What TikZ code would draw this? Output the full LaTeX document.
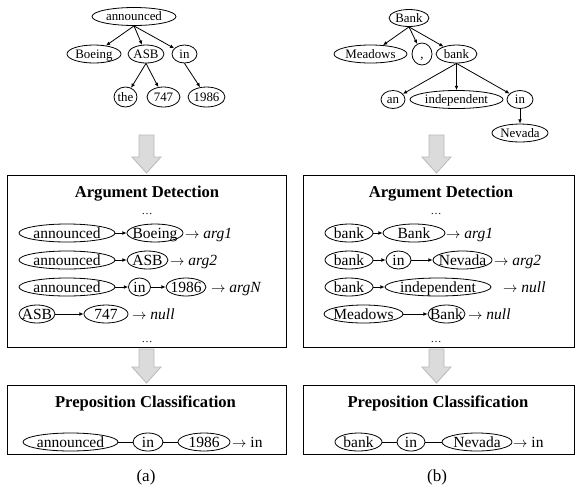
\documentclass[tikz,border=0pt]{standalone}
\usepackage{fontspec}
\setmainfont{Liberation Serif}
\usetikzlibrary{shapes.geometric,arrows.meta}
\begin{document}
\begin{tikzpicture}[x=1pt,y=-1pt,
  el/.style={draw, ellipse, line width=0.8pt, inner xsep=-8pt, inner ysep=-5pt,
             minimum height=18pt},
  tr/.style={el, text height=9.5pt, text depth=1.1pt, font=\fontsize{12.9}{14}\selectfont},
  bx/.style={el, text height=11.5pt, text depth=1pt, font=\fontsize{15.5}{17}\selectfont},
  edge/.style={line width=0.8pt, -{Latex[length=4.2pt,width=3.8pt]}},
  link/.style={line width=0.8pt},
  lab/.style={anchor=west, inner sep=0pt, text height=11.5pt, text depth=1pt,
              font=\fontsize{15.5}{17}\selectfont},
  ttl/.style={anchor=base, inner sep=0pt, font=\fontsize{16.6}{19}\selectfont\bfseries},
  dts/.style={anchor=base, inner sep=0pt, font=\fontsize{11}{12}\selectfont},
  panel/.style={draw, line width=1pt, inner sep=0pt},
  bigarrow/.style={fill=black!14, draw=black!28, line width=0.8pt},
  captxt/.style={inner sep=0pt, font=\fontsize{17}{19}\selectfont}
]
\useasboundingbox (0,0) rectangle (576,499);

% ---------------- top trees ----------------
\node[tr, minimum width=84pt] (a0) at (134,16.5) {announced};
\node[tr, minimum width=54pt] (a1) at (94,54) {Boeing};
\node[tr, minimum width=36pt] (a2) at (146,54) {ASB};
\node[tr, minimum width=25pt] (a3) at (184.5,54) {in};
\node[tr, minimum width=23pt, minimum height=20pt] (a4) at (125.5,97) {the};
\node[tr, minimum width=33pt, minimum height=20pt] (a5) at (163.5,97) {747};
\node[tr, minimum width=37pt, minimum height=20pt] (a6) at (206.5,97) {1986};
\draw[edge] (a0.south) -- (a1);
\draw[edge] (a0.south) -- (a2);
\draw[edge] (a0.south) -- (a3);
\draw[edge] (a2.south) -- (a4);
\draw[edge] (a2.south) -- (a5);
\draw[edge] (a3.south) -- (a6);

\node[tr, minimum width=40pt, minimum height=17pt] (b0) at (409,18) {Bank};
\node[tr, minimum width=73pt] (b1) at (370.5,54) {Meadows};
\node[tr, minimum width=20pt, minimum height=22pt] (b2) at (422,54) {,};
\node[tr, minimum width=41pt] (b3) at (456.5,54) {bank};
\node[tr, minimum width=24pt] (b4) at (393,99.5) {an};
\node[tr, minimum width=93pt] (b5) at (456.5,99.5) {independent};
\node[tr, minimum width=26pt] (b6) at (520,99.5) {in};
\node[tr, minimum width=56pt] (b7) at (520,133) {Nevada};
\draw[edge] (b0.south) -- (b1);
\draw[edge] (b0.south) -- (b2);
\draw[edge] (b0.south) -- (b3);
\draw[edge] (b3.south) -- (b4);
\draw[edge] (b3.south) -- (b5);
\draw[edge] (b3.south) -- (b6);
\draw[edge] (b6) -- (b7);

% ---------------- gray arrows ----------------
\foreach \cx/\ya/\yb/\yc in {146.5/135/157/173, 436.5/135/157/173, 146.5/349/367/383, 436.5/349/367/383}{
  \draw[bigarrow] (\cx-7.5,\ya) -- (\cx+7.5,\ya) -- (\cx+7.5,\yb) -- (\cx+14.5,\yb)
     -- (\cx,\yc) -- (\cx-14.5,\yb) -- (\cx-7.5,\yb) -- cycle;
}

% ---------------- panels ----------------
\node[panel, minimum width=279pt, minimum height=172pt] (pl1) at (146.5,261) {};
\node[panel, minimum width=271pt, minimum height=172pt] (pr1) at (439,261) {};
\node[panel, minimum width=279pt, minimum height=69pt] (pl2) at (146.5,419.5) {};
\node[panel, minimum width=271pt, minimum height=69pt] (pr2) at (439,419.5) {};

\node[ttl] (tl1) at (147,197) {Argument Detection};
\node[ttl] (tr1) at (441,197) {Argument Detection};
\node[ttl] (tl2) at (145.5,407) {Preposition Classification};
\node[ttl] (tr2) at (438,407) {Preposition Classification};

\node[dts] (dl1) at (147,214) {\dots};
\node[dts] (dr1) at (436,214) {\dots};
\node[dts] (dl2) at (147,342) {\dots};
\node[dts] (dr2) at (436,342) {\dots};

% ---------------- left argument rows ----------------
\node[bx, minimum width=96pt] (l11) at (67,233) {announced};
\node[bx, minimum width=56pt] (l12) at (155,233) {Boeing};
\node[lab] (l1l) at (185,233) {$\rightarrow$ \textit{arg1}};
\draw[edge] (l11) -- (l12);

\node[bx, minimum width=96pt] (l21) at (67,260) {announced};
\node[bx, minimum width=41pt] (l22) at (147.5,260) {ASB};
\node[lab] (l2l) at (170,260) {$\rightarrow$ \textit{arg2}};
\draw[edge] (l21) -- (l22);

\node[bx, minimum width=96pt] (l31) at (67,287) {announced};
\node[bx, minimum width=22pt] (l32) at (139.5,287) {in};
\node[bx, minimum width=40pt] (l33) at (186,287) {1986};
\node[lab] (l3l) at (211,287) {$\rightarrow$ \textit{argN}};
\draw[edge] (l31) -- (l32);
\draw[edge] (l32) -- (l33);

\node[bx, minimum width=36pt] (l41) at (37,314) {ASB};
\node[bx, minimum width=44pt] (l42) at (106,314) {747};
\node[lab] (l4l) at (132,314) {$\rightarrow$ \textit{null}};
\draw[edge] (l41) -- (l42);

% ---------------- right argument rows ----------------
\node[bx, minimum width=48pt] (r11) at (349,233) {bank};
\node[bx, minimum width=62pt] (r12) at (414,233) {Bank};
\node[lab] (r1l) at (446,233) {$\rightarrow$ \textit{arg1}};
\draw[edge] (r11) -- (r12);

\node[bx, minimum width=48pt] (r21) at (349,260) {bank};
\node[bx, minimum width=25pt] (r22) at (398.5,260) {in};
\node[bx, minimum width=59pt] (r23) at (462.5,260) {Nevada};
\node[lab] (r2l) at (494,260) {$\rightarrow$ \textit{arg2}};
\draw[edge] (r21) -- (r22);
\draw[edge] (r22) -- (r23);

\node[bx, minimum width=48pt] (r31) at (349,287) {bank};
\node[bx, minimum width=106pt] (r32) at (438,287) {independent};
\node[lab] (r3l) at (503,287) {$\rightarrow$ \textit{null}};
\draw[edge] (r31) -- (r32);

\node[bx, minimum width=79pt] (r41) at (363.5,314) {Meadows};
\node[bx, minimum width=37pt] (r42) at (446.5,314) {Bank};
\node[lab] (r4l) at (468,314) {$\rightarrow$ \textit{null}};
\draw[edge] (r41) -- (r42);

% ---------------- preposition rows ----------------
\node[bx, minimum width=95pt] (p11) at (70.5,442) {announced};
\node[bx, minimum width=30pt] (p12) at (148,442) {in};
\node[bx, minimum width=52pt] (p13) at (204,442) {1986};
\node[lab] (p1l) at (232,442) {$\rightarrow$ in};
\draw[link] (p11) -- (p12);
\draw[link] (p12) -- (p13);

\node[bx, minimum width=47pt] (p21) at (358.5,442) {bank};
\node[bx, minimum width=28pt] (p22) at (411,442) {in};
\node[bx, minimum width=70pt] (p23) at (477,442) {Nevada};
\node[lab] (p2l) at (513,442) {$\rightarrow$ in};
\draw[link] (p21) -- (p22);
\draw[link] (p22) -- (p23);

% ---------------- captions ----------------
\node[captxt] (ca) at (146,477) {(a)};
\node[captxt] (cb) at (437,477) {(b)};
\end{tikzpicture}
\end{document}
